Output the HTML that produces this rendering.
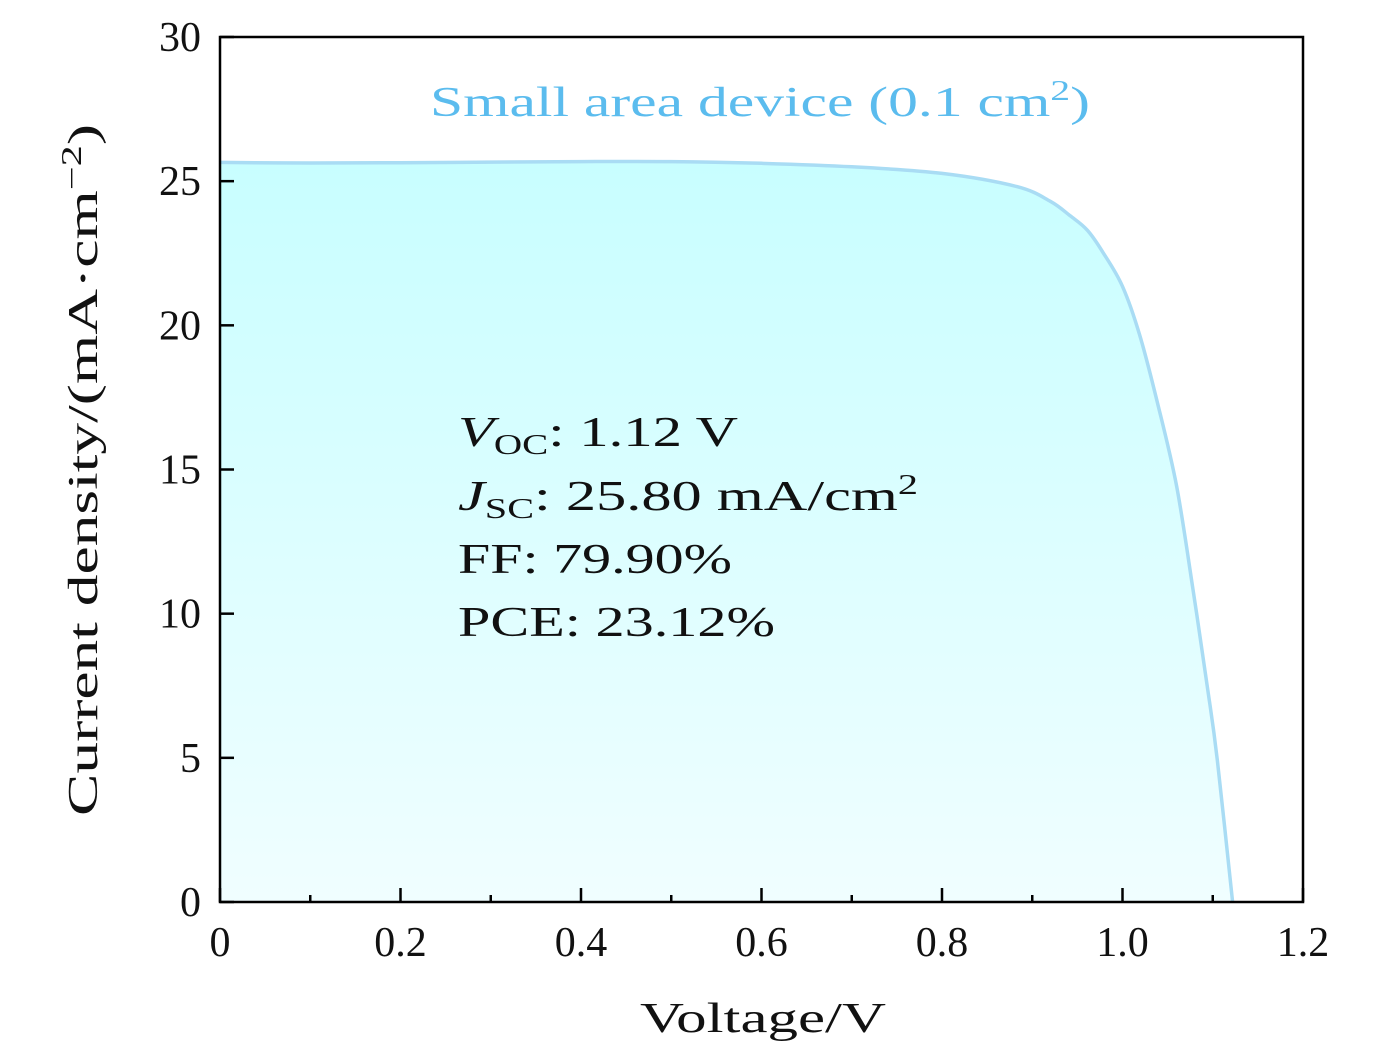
<!DOCTYPE html>
<html><head><meta charset="utf-8"><style>
html,body{margin:0;padding:0;background:#fff;}
svg{display:block;font-family:"Liberation Serif","DejaVu Serif",serif;}
</style></head><body>
<svg id="chart" width="1378" height="1053" viewBox="0 0 1378 1053">
<defs><linearGradient id="fillg" x1="0" y1="0" x2="0" y2="1">
<stop offset="0" stop-color="#c8feff"/><stop offset="1" stop-color="#f0feff"/></linearGradient></defs>
<g id="plot"></g>
<text x="430" y="116" font-size="42" fill="#5bbcee" textLength="660" lengthAdjust="spacingAndGlyphs">Small area device (0.1 cm<tspan font-size="28" dy="-16">2</tspan><tspan dy="16">)</tspan></text>
<g font-size="42" fill="#111">
<text x="458" y="446" textLength="280" lengthAdjust="spacingAndGlyphs"><tspan font-style="italic">V</tspan><tspan font-size="28" dy="8">OC</tspan><tspan dy="-8">: 1.12 V</tspan></text>
<text x="458" y="510" textLength="460" lengthAdjust="spacingAndGlyphs"><tspan font-style="italic">J</tspan><tspan font-size="28" dy="8">SC</tspan><tspan dy="-8">: 25.80 mA/cm</tspan><tspan font-size="28" dy="-16">2</tspan></text>
<text x="458" y="573" textLength="274" lengthAdjust="spacingAndGlyphs">FF: 79.90%</text>
<text x="458" y="636" textLength="317" lengthAdjust="spacingAndGlyphs">PCE: 23.12%</text>
</g>
<text x="640" y="1032" font-size="42" fill="#111" textLength="246" lengthAdjust="spacingAndGlyphs">Voltage/V</text>
<text transform="translate(97,816) rotate(-90)" font-size="42" fill="#111" textLength="692" lengthAdjust="spacingAndGlyphs">Current density/(mA·cm<tspan font-size="28" dy="-16">−2</tspan><tspan dy="16">)</tspan></text>
</svg>
<script>
const voltage=[0,0.1,0.2,0.3,0.4,0.5,0.6,0.7,0.8,0.883,0.92,0.942,0.961,0.979,1.0,1.019,1.039,1.06,1.078,1.094,1.105,1.122];
const current=[25.65,25.63,25.64,25.66,25.68,25.68,25.62,25.5,25.27,24.81,24.3,23.8,23.3,22.5,21.35,19.67,17.28,14.41,10.86,7.47,4.93,0];
const xTicks=["0","0.2","0.4","0.6","0.8","1.0","1.2"];
const xTickVals=[0,0.2,0.4,0.6,0.8,1.0,1.2];
const yTickVals=[0,5,10,15,20,25,30];
const X0=220,X1=1303,Y0=902,Y1=37;
const xs=v=>X0+(v-0)/(1.2)*(X1-X0);
const ys=j=>Y0-(j/30)*(Y0-Y1);
const NS="http://www.w3.org/2000/svg";
const g=document.getElementById('plot');
function mk(t,a){const e=document.createElementNS(NS,t);for(const k in a)e.setAttribute(k,a[k]);g.appendChild(e);return e;}
const P=voltage.map((v,i)=>[xs(v),ys(current[i])]);
let d="M"+P[0][0]+","+P[0][1];
for(let i=0;i<P.length-1;i++){
  const p0=P[Math.max(i-1,0)],p1=P[i],p2=P[i+1],p3=P[Math.min(i+2,P.length-1)];
  const c1=[p1[0]+(p2[0]-p0[0])/6,p1[1]+(p2[1]-p0[1])/6];
  const c2=[p2[0]-(p3[0]-p1[0])/6,p2[1]-(p3[1]-p1[1])/6];
  d+=" C"+c1[0].toFixed(1)+","+c1[1].toFixed(1)+" "+c2[0].toFixed(1)+","+c2[1].toFixed(1)+" "+p2[0].toFixed(1)+","+p2[1].toFixed(1);
}
const area=mk('path',{d:d+" L"+xs(voltage[voltage.length-1])+","+ys(0)+" L"+xs(0)+","+ys(0)+" Z",fill:"url(#fillg)"});


const line=mk('path',{d:d,fill:"none",stroke:"#a9dcf4","stroke-width":3.5,"stroke-linejoin":"round"});


for(let i=0;i<xTickVals.length;i++){
  const x=xs(xTickVals[i]);
  mk('line',{x1:x,y1:Y0,x2:x,y2:Y0-14,stroke:"#000","stroke-width":2.5});
  if(i<xTickVals.length-1){const xm=xs(xTickVals[i]+0.1);mk('line',{x1:xm,y1:Y0,x2:xm,y2:Y0-7,stroke:"#000","stroke-width":2.5});}
  const t=mk('text',{x:x,y:956,"font-size":42,"text-anchor":"middle",fill:"#111"});t.textContent=xTicks[i];
  
  
}
for(let i=0;i<yTickVals.length;i++){
  const y=ys(yTickVals[i]);
  mk('line',{x1:X0,y1:y,x2:X0+14,y2:y,stroke:"#000","stroke-width":2.5});
  const t=mk('text',{x:201,y:y+14,"font-size":42,"text-anchor":"end",fill:"#111"});t.textContent=String(yTickVals[i]);
  
  
}
const fr=mk('rect',{x:X0,y:Y1,width:X1-X0,height:Y0-Y1,fill:"none",stroke:"#000","stroke-width":2.5});


</script>
</body></html>
